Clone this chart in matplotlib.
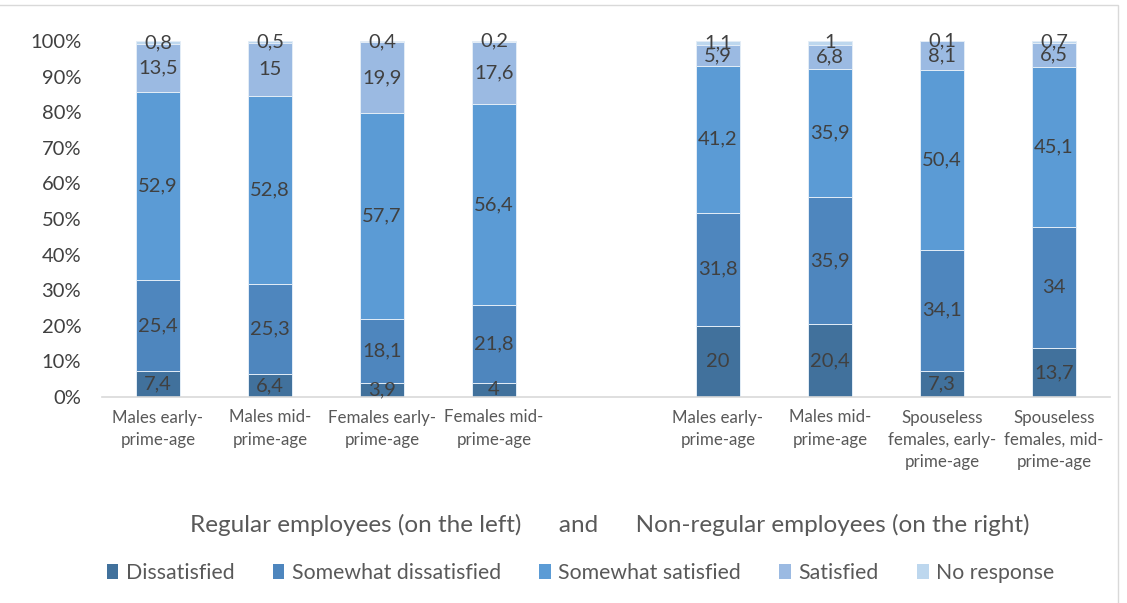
import matplotlib
matplotlib.use("Agg")
import matplotlib.pyplot as plt
from matplotlib.patches import Rectangle, Patch

plt.rcParams['font.family'] = ['Lato', 'DejaVu Sans']

categories = ["Males early-\nprime-age", "Males mid-\nprime-age", "Females early-\nprime-age",
              "Females mid-\nprime-age", "", "Males early-\nprime-age", "Males mid-\nprime-age",
              "Spouseless\nfemales, early-\nprime-age", "Spouseless\nfemales, mid-\nprime-age"]
series_names = ["Dissatisfied", "Somewhat dissatisfied", "Somewhat satisfied", "Satisfied", "No response"]
dissatisfied = [7.4, 6.4, 3.9, 4, None, 20, 20.4, 7.3, 13.7]
somewhat_dissatisfied = [25.4, 25.3, 18.1, 21.8, None, 31.8, 35.9, 34.1, 34]
somewhat_satisfied = [52.9, 52.8, 57.7, 56.4, None, 41.2, 35.9, 50.4, 45.1]
satisfied = [13.5, 15, 19.9, 17.6, None, 5.9, 6.8, 8.1, 6.5]
no_response = [0.8, 0.5, 0.4, 0.2, None, 1.1, 1, 0.1, 0.7]
yticks = [0, 10, 20, 30, 40, 50, 60, 70, 80, 90, 100]
title = "Regular employees (on the left)      and      Non-regular employees (on the right)"

colors = ["#41719C", "#4E86BE", "#5B9BD5", "#9BBAE2", "#BDD7EE"]
all_series = [dissatisfied, somewhat_dissatisfied, somewhat_satisfied, satisfied, no_response]

fig = plt.figure(figsize=(11.27, 6.03), dpi=100)
ax = fig.add_axes([102/1127, 1-397/603, 1008/1127, 356/603])

x = list(range(len(categories)))
bottoms = [0.0] * len(categories)
for vals, col, name in zip(all_series, colors, series_names):
    for i, v in enumerate(vals):
        if v is None:
            continue
        ax.bar(i, v, bottom=bottoms[i], width=0.39, color=col, edgecolor="#E3EDF7", linewidth=0.7, zorder=2)
        lbl = f"{v:g}".replace('.', ',')
        ax.text(i, bottoms[i] + v/2, lbl, ha='center', va='center', fontsize=14.5, color='#404040', zorder=3)
        bottoms[i] += v

ax.set_xlim(-0.5, len(categories) - 0.5)
ax.set_ylim(0, 100)
ax.set_yticks(yticks)
ax.set_yticklabels([f"{t}%" for t in yticks], fontsize=14.5, color='#404040')
ax.set_xticks(x)
ax.set_xticklabels(categories, fontsize=12.2, color='#595959')
for t in ax.get_xticklabels():
    t.set_linespacing(1.5)
ax.tick_params(axis='y', length=0, pad=15)
ax.tick_params(axis='x', length=0, pad=9)
for s in ['top', 'right', 'left']:
    ax.spines[s].set_visible(False)
ax.spines['bottom'].set_color('#D9D9D9')
ax.spines['bottom'].set_linewidth(1.2)

fig.text(0.541, 1-525/603, title, ha='center', va='center', fontsize=17.5, color='#595959')

handles = [Patch(facecolor=c, edgecolor='none') for c in colors]
fig.legend(handles, series_names, loc='center', bbox_to_anchor=(0.515, 1-573/603), ncol=5,
           frameon=False, fontsize=15.3, labelcolor='#595959', handlelength=0.55, handleheight=0.75,
           handletextpad=0.35, columnspacing=1.8)

fig.patches.append(Rectangle((-0.01, -0.01), 1118/1127 + 0.01, 1 - 5/603 + 0.01, transform=fig.transFigure,
                             fill=False, edgecolor='#D9D9D9', linewidth=1))

fig.savefig("out.png", dpi=100)
